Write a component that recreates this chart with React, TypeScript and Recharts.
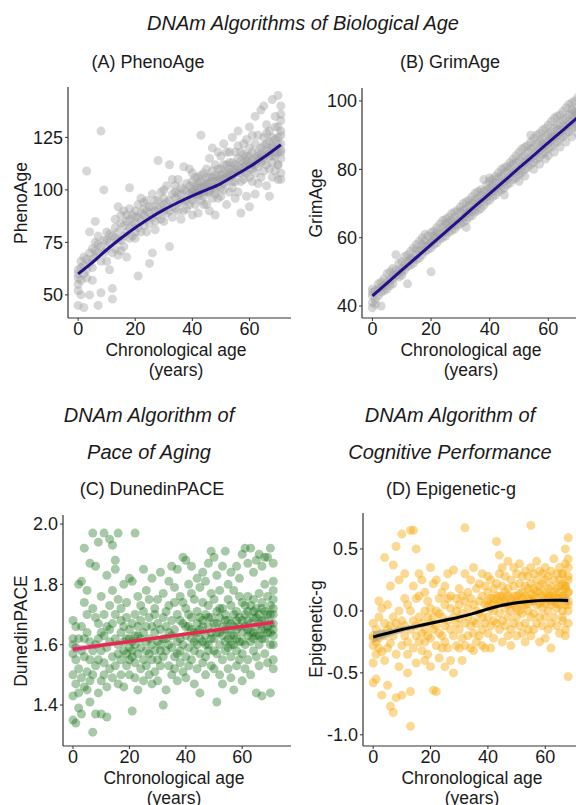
import React from "react";
import { ComposedChart, Scatter, Line, Area, XAxis, YAxis } from "recharts";

// ---- data (row index = chronological age in years) ----
const phenoByAge: number[][] = [
  [55, 52, 58, 62, 45, 60], [50, 57, 63, 66], [44, 60, 68, 64], [109, 62, 58, 67], [65, 70, 50, 80],
  [67, 72, 57, 63], [75, 85, 68, 71], [45, 70, 78, 74], [51, 128, 73, 66], [100, 76, 70],
  [72, 80, 66, 76], [75, 62, 79], [48, 53, 78, 70], [72, 82, 77, 86], [80, 92, 69, 76],
  [76, 84, 88, 71], [78, 90, 73, 83], [85, 80, 68, 88], [86, 82, 91, 101, 77], [88, 78, 83],
  [84, 90, 80, 77, 87], [59, 87, 93, 82], [85, 96, 80, 89], [88, 91, 83, 94], [86, 95, 80, 90],
  [65, 89, 84, 92], [92, 98, 70, 87], [90, 85, 95, 81], [95, 88, 114, 91], [92, 99, 86],
  [90, 96, 85, 93, 100], [102, 89, 94], [73, 95, 112, 90], [92, 98, 87, 105], [96, 102, 91, 99],
  [94, 90, 105, 98], [98, 86, 101, 94], [111, 100, 95, 90], [95, 103, 91, 99], [110, 98, 93, 102],
  [97, 104, 88, 100, 108, 95, 99], [100, 93, 106, 98, 102], [106, 98, 89, 101, 97, 103], [101, 95, 126, 107, 99, 104], [108, 99, 93, 103, 101, 97],
  [103, 93, 110, 99, 102, 106], [100, 115, 90, 106, 103, 99], [104, 96, 120, 109, 101, 106], [107, 100, 88, 112, 104, 98], [110, 102, 96, 118, 106, 104],
  [105, 97, 116, 110, 101, 107], [108, 100, 122, 112, 105, 103], [104, 112, 93, 118, 108, 106], [110, 99, 118, 106, 108, 113], [107, 101, 125, 113, 109, 104],
  [112, 104, 96, 118, 108, 110], [115, 108, 99, 128, 121, 111], [110, 89, 118, 104, 114, 108], [113, 105, 122, 117, 109, 111], [108, 116, 97, 124, 112, 114],
  [112, 92, 120, 130, 116, 106, 110], [110, 104, 126, 118, 114, 112], [115, 108, 98, 135, 122, 112], [118, 111, 103, 126, 114, 116], [120, 113, 106, 138, 117, 115],
  [116, 109, 125, 140, 121, 114], [122, 112, 102, 131, 117, 127, 119], [118, 97, 128, 110, 123, 116], [120, 113, 143, 106, 125, 116, 121], [124, 116, 109, 135, 120, 130, 118],
  [122, 145, 112, 105, 130, 118, 125, 112], [118, 126, 108, 140, 115, 133, 122, 128, 119, 136, 105],
];

const grimByAge: number[][] = [
  [43, 41, 45, 39.5, 44], [42, 44.5, 40.5], [45, 43, 46.5], [40, 45.5, 47, 44], [46, 48, 44.5],
  [47, 45, 49.5], [47.5, 50, 46], [48, 51, 46.5, 49], [55, 49, 50.5], [50, 52.5, 48.5],
  [51, 53, 49, 50], [52, 54.5, 50.5], [46.5, 53, 55, 51.5], [53.5, 56, 52, 54], [54, 57, 52.5],
  [55, 58, 53.5, 56.5], [56, 59, 54], [56.5, 60, 55, 58], [57.5, 61, 56, 59], [58, 60.5, 56.5],
  [50, 59, 61.5, 57, 58.5], [59.5, 62, 58, 60.5], [60, 63, 58.5, 61.5], [61, 64, 59.5], [61.5, 65, 60, 63],
  [62, 65.5, 60.5, 64], [63, 66, 61.5, 64.5], [63.5, 67, 62, 65], [64, 67.5, 62.5, 66], [65, 68, 63.5],
  [65.5, 69, 64, 67.5], [66, 70, 64.5, 68], [67, 70.5, 65, 63, 68.5], [67.5, 71, 66, 69.5], [68, 72, 66.5, 70],
  [69, 73, 67.5, 71], [70, 73.5, 68, 71.5], [70.5, 74, 68.5, 72.5], [71.5, 77, 69.5, 73.5], [72, 75.5, 70.5, 74],
  [73, 76.5, 71, 74.5, 77.5], [73.5, 77, 72, 75.5], [74.5, 78, 72.5, 76], [75, 79, 73.5, 77.5], [76, 80, 74, 78],
  [76.5, 80.5, 74.5, 79, 72.5], [77, 81, 75.5, 79.5], [78, 82, 76, 80.5], [79, 83, 77, 81.5], [79.5, 84, 77.5, 82],
  [80, 85, 78.5, 82.5, 76.5], [81, 86, 79, 83.5], [82, 86.5, 80, 84, 78], [82.5, 87, 80.5, 85], [83.5, 88, 81.5, 86, 90],
  [84, 89, 82, 86.5, 80], [85, 90, 83, 87.5], [85.5, 90.5, 83.5, 88, 81.5], [86.5, 91.5, 84.5, 89, 87.5], [87, 92, 85, 89.5, 83],
  [88, 93, 86, 90.5, 84], [88.5, 94, 86.5, 91, 89.5], [89.5, 95, 87.5, 92, 85], [90, 95.5, 88, 93, 91.5], [91, 96, 89, 93.5, 86.5],
  [91.5, 97, 89.5, 94.5, 92.5], [92.5, 98, 90.5, 95, 88], [93, 99, 91, 96, 94], [94, 99.5, 92, 96.5, 89.5, 97.5], [94.5, 100, 92.5, 97, 95.5],
  [95, 101, 93, 98, 90.5, 96.5], [96, 100, 93.5, 98.5, 95, 96.5, 99, 94],
];

const paceByAge: number[][] = [
  [1.68, 1.62, 1.57, 1.5, 1.43, 1.35, 1.6], [1.66, 1.55, 1.34, 1.59, 1.47], [1.8, 1.52, 1.44, 1.62, 1.39], [1.81, 1.66, 1.37, 1.58, 1.49], [1.92, 1.74, 1.56, 1.46, 1.62],
  [1.78, 1.64, 1.51, 1.45, 1.7], [1.87, 1.61, 1.48, 1.41, 1.55], [1.97, 1.72, 1.58, 1.31, 1.5], [1.86, 1.69, 1.53, 1.37, 1.6], [1.94, 1.67, 1.55, 1.44, 1.62],
  [1.76, 1.64, 1.48, 1.37, 1.58], [1.97, 1.7, 1.54, 1.5, 1.63], [1.83, 1.66, 1.59, 1.36, 1.46], [1.95, 1.73, 1.61, 1.52, 1.65], [1.93, 1.78, 1.56, 1.49, 1.67],
  [1.88, 1.7, 1.62, 1.53, 1.85], [1.97, 1.75, 1.6, 1.47, 1.57], [1.72, 1.64, 1.55, 1.5, 1.68], [1.8, 1.66, 1.58, 1.46, 1.61], [1.69, 1.62, 1.53, 1.57, 1.74],
  [1.82, 1.65, 1.59, 1.5, 1.55, 1.62], [1.81, 1.67, 1.56, 1.38, 1.61, 1.58], [1.97, 1.7, 1.6, 1.49, 1.54, 1.63], [1.76, 1.63, 1.57, 1.45, 1.66], [1.73, 1.68, 1.59, 1.52, 1.62],
  [1.85, 1.64, 1.55, 1.48, 1.71], [1.78, 1.66, 1.61, 1.53, 1.58], [1.69, 1.62, 1.5, 1.57, 1.75], [1.82, 1.6, 1.55, 1.47, 1.66], [1.72, 1.64, 1.58, 1.51, 1.7],
  [1.75, 1.61, 1.55, 1.48, 1.67], [1.84, 1.65, 1.6, 1.53, 1.58], [1.77, 1.62, 1.4, 1.56, 1.69], [1.71, 1.66, 1.58, 1.45, 1.62], [1.81, 1.6, 1.53, 1.64, 1.73],
  [1.86, 1.68, 1.59, 1.5, 1.63], [1.74, 1.65, 1.56, 1.52, 1.79], [1.85, 1.7, 1.61, 1.48, 1.57], [1.76, 1.62, 1.58, 1.54, 1.68], [1.89, 1.67, 1.6, 1.51, 1.74],
  [1.88, 1.72, 1.63, 1.56, 1.49, 1.66], [1.8, 1.66, 1.59, 1.53, 1.7], [1.86, 1.69, 1.62, 1.55, 1.77, 1.65], [1.75, 1.64, 1.58, 1.47, 1.61], [1.82, 1.71, 1.6, 1.52, 1.67, 1.64],
  [1.79, 1.65, 1.57, 1.44, 1.62, 1.69], [1.84, 1.68, 1.61, 1.54, 1.74, 1.66], [1.81, 1.7, 1.63, 1.56, 1.5, 1.6], [1.87, 1.73, 1.6, 1.58, 1.66, 1.69], [1.91, 1.69, 1.64, 1.53, 1.77, 1.62],
  [1.89, 1.75, 1.62, 1.52, 1.58, 1.67], [1.83, 1.67, 1.41, 1.57, 1.71, 1.64], [1.78, 1.64, 1.6, 1.5, 1.69, 1.72], [1.86, 1.72, 1.63, 1.55, 1.47, 1.66], [1.91, 1.7, 1.65, 1.58, 1.61, 1.68],
  [1.8, 1.68, 1.62, 1.52, 1.75, 1.65, 1.59], [1.84, 1.73, 1.6, 1.56, 1.49, 1.67, 1.63], [1.78, 1.66, 1.63, 1.45, 1.7, 1.6], [1.86, 1.71, 1.65, 1.58, 1.53, 1.68, 1.62], [1.82, 1.69, 1.61, 1.55, 1.76, 1.66],
  [1.9, 1.74, 1.64, 1.57, 1.48, 1.68, 1.61], [1.92, 1.7, 1.66, 1.6, 1.52, 1.73], [1.87, 1.76, 1.63, 1.55, 1.68, 1.71, 1.65], [1.92, 1.73, 1.67, 1.61, 1.5, 1.64], [1.84, 1.75, 1.69, 1.58, 1.64, 1.71, 1.62],
  [1.88, 1.72, 1.66, 1.56, 1.44, 1.69, 1.63], [1.9, 1.77, 1.63, 1.6, 1.53, 1.7, 1.67], [1.86, 1.74, 1.68, 1.43, 1.62, 1.65, 1.72], [1.89, 1.71, 1.65, 1.57, 1.8, 1.68, 1.62], [1.89, 1.76, 1.64, 1.54, 1.66, 1.7],
  [1.92, 1.73, 1.67, 1.44, 1.6, 1.64, 1.7], [1.87, 1.78, 1.63, 1.55, 1.7, 1.75, 1.65, 1.6, 1.52, 1.72, 1.81, 1.67],
];

const epiByAge: number[][] = [
  [-0.2, -0.28, -0.42, -0.58, -0.1, -0.22], [-0.55, -0.25, -0.15, -0.35], [-0.3, -0.05, -0.22, 0.08], [-0.68, 0.02, -0.33, -0.18], [0.43, -0.2, -0.4, -0.1],
  [-0.6, -0.15, -0.3, 0.05], [-0.77, -0.12, 0.2, -0.26], [-0.82, 0.37, -0.2, -0.05], [-0.7, 0.52, -0.35, -0.1], [-0.45, 0.25, -0.15, 0.0],
  [0.62, -0.68, -0.28, -0.08], [0.3, -0.2, -0.12, 0.1], [-0.5, 0.05, -0.25, -0.35], [-0.93, 0.65, -0.65, 0.0, -0.15], [0.65, 0.2, -0.3, -0.08],
  [0.5, -0.2, 0.1, -0.12, -0.42], [0.3, -0.05, -0.25, 0.12], [-0.1, 0.25, -0.32, -0.18], [0.0, -0.4, 0.15, -0.15, -0.25], [-0.05, 0.08, -0.2, -0.35],
  [0.35, -0.1, -0.22, 0.02, -0.45], [-0.64, 0.22, -0.05, -0.15], [0.25, -0.28, 0.0, -0.12, -0.65], [-0.02, -0.38, 0.1, -0.18], [0.15, -0.2, -0.05, -0.3],
  [-0.45, 0.05, -0.12, 0.2, -0.25], [0.1, -0.08, -0.3, 0.3], [-0.15, 0.02, -0.4, 0.12], [0.33, -0.05, -0.2, -0.5], [-0.1, 0.1, -0.28, 0.0],
  [0.18, -0.06, -0.3, -0.15, 0.05], [-0.02, 0.12, -0.22, -0.4], [0.67, 0.08, -0.1, -0.28, 0.3], [-0.05, 0.15, -0.2, 0.02], [0.1, -0.12, 0.25, -0.3],
  [-0.08, 0.05, 0.35, -0.18, -0.32], [0.0, 0.18, -0.1, -0.25], [0.22, -0.02, 0.08, -0.2], [-0.15, 0.12, 0.3, -0.05, -0.28], [0.05, -0.1, 0.2, -0.3],
  [0.15, -0.05, 0.08, -0.18, 0.28, 0.04], [0.02, 0.25, -0.12, -0.3, 0.1], [0.1, -0.08, 0.18, 0.0, -0.22, 0.06], [0.56, 0.05, -0.1, 0.22, 0.12], [0.12, -0.02, 0.3, -0.15, 0.45, 0.06],
  [0.08, 0.2, -0.08, -0.25, 0.35, 0.12], [0.15, 0.02, -0.12, 0.28, 0.08], [0.05, 0.18, -0.05, -0.2, 0.4, 0.12], [0.1, 0.25, 0.0, -0.15, -0.28, 0.06], [0.2, 0.05, -0.1, 0.35, 0.12],
  [0.12, 0.3, -0.05, 0.02, -0.2, 0.08], [0.08, 0.22, -0.12, 0.38, 0.0, 0.14], [0.15, -0.02, 0.28, -0.18, 0.1, 0.05], [0.05, 0.2, -0.1, 0.32, -0.25, 0.12], [0.18, 0.0, 0.1, -0.15, 0.28, 0.06],
  [0.69, 0.08, 0.22, -0.05, -0.2, 0.35, 0.14], [0.12, 0.3, -0.02, 0.18, -0.15, 0.08], [0.05, 0.25, 0.1, -0.1, 0.4, 0.16], [0.2, -0.05, 0.15, 0.32, -0.25, 0.06], [0.08, 0.22, -0.12, 0.02, 0.3, 0.12],
  [0.15, 0.35, -0.05, 0.1, -0.22, 0.25, 0.06], [0.1, 0.28, 0.0, -0.15, 0.18, 0.12], [0.2, 0.05, 0.32, -0.1, 0.12, -0.3, 0.08], [0.08, 0.25, -0.05, 0.15, 0.42, 0.12], [0.18, 0.02, 0.3, -0.12, 0.1, 0.06],
  [0.1, 0.25, -0.18, 0.05, 0.35, 0.15, 0.2], [0.22, 0.0, 0.12, -0.08, 0.3, 0.12, 0.3, -0.05], [0.05, 0.2, 0.38, -0.15, 0.1, 0.5, 0.18, -0.2, 0.2],
  [0.59, 0.15, 0.0, 0.25, -0.1, 0.08, -0.53, 0.42, 0.28, 0.05, 0.35, 0.15],
];

// smoothed fits
const fitAges = [0, 5, 10, 15, 20, 25, 30, 35, 40, 45, 50, 55, 60, 65, 71];
const phenoFit = [60, 65.5, 71.5, 77, 82, 86.5, 90.5, 94, 97.2, 100, 103, 107, 111, 115.5, 121.5];
const grimFit = [43, 46.7, 50.5, 54.2, 58, 61.7, 65.4, 69.2, 72.9, 76.6, 80.4, 84.1, 87.8, 91.5, 96];
const paceFit = [1.585, 1.591, 1.598, 1.604, 1.61, 1.616, 1.623, 1.629, 1.635, 1.641, 1.648, 1.654, 1.66, 1.666, 1.674];
const paceSe = [0.012, 0.009, 0.007, 0.006, 0.005, 0.004, 0.004, 0.004, 0.004, 0.004, 0.004, 0.005, 0.006, 0.007, 0.009];
const epiFitAges = [0, 5, 10, 15, 20, 25, 30, 35, 40, 45, 50, 55, 60, 65, 68];
const epiFit = [-0.21, -0.18, -0.15, -0.125, -0.1, -0.075, -0.05, -0.02, 0.015, 0.045, 0.065, 0.078, 0.085, 0.087, 0.084];
const epiSe = [0.045, 0.03, 0.022, 0.018, 0.016, 0.015, 0.015, 0.015, 0.015, 0.015, 0.014, 0.014, 0.015, 0.018, 0.028];

const xTicks = [0, 20, 40, 60];
const FONT = '"Liberation Sans", Arial, Helvetica, sans-serif';
const INK = "#1a1a1a";

const toPoints = (rows: number[][]) => rows.flatMap((vals, age) => vals.map(v => ({ x: age, y: v })));
const toFit = (ages: number[], vals: number[]) => ages.map((a, i) => ({ x: a, y: vals[i] }));
const toBand = (ages: number[], vals: number[], se: number[]) =>
  ages.map((a, i) => ({ x: a, range: [vals[i] - se[i], vals[i] + se[i]] }));

type PanelProps = {
  left: number; top: number; width: number; height: number;
  plot: { left: number; top: number; right: number; bottom: number };
  xDomain: [number, number];
  yDomain: [number, number];
  yTicks: number[];
  yFormat?: (v: number) => string;
  points: { x: number; y: number }[];
  fit: { x: number; y: number }[];
  band?: { x: number; range: number[] }[];
  dotColor: string; dotOpacity: number;
  lineColor: string; lineWidth: number;
  bandColor?: string;
};

function Panel(p: PanelProps) {
  const xh = 40;
  const margin = {
    top: p.plot.top - p.top,
    left: 0,
    right: p.left + p.width - p.plot.right,
    bottom: p.top + p.height - p.plot.bottom - xh,
  };
  const tick = { fontSize: 18, fill: INK, fontFamily: FONT };
  const axes = (visible: boolean) => [
    <XAxis
      key="x" type="number" dataKey="x" domain={p.xDomain} ticks={xTicks} allowDataOverflow
      height={xh} tick={visible ? tick : false} tickSize={3} tickMargin={1}
      axisLine={visible ? { stroke: "#333", strokeWidth: 1.2 } : false}
      tickLine={visible ? { stroke: "#333" } : false}
    />,
    <YAxis
      key="y" type="number" dataKey="y" domain={p.yDomain} ticks={p.yTicks} allowDataOverflow
      width={p.plot.left - p.left} tick={visible ? tick : false} tickSize={3} tickMargin={2}
      tickFormatter={p.yFormat}
      axisLine={visible ? { stroke: "#333", strokeWidth: 1.2 } : false}
      tickLine={visible ? { stroke: "#333" } : false}
    />,
  ];
  return (
    <div style={{ position: "absolute", left: p.left, top: p.top, width: p.width, height: p.height }}>
      {/* points and axes */}
      <ComposedChart width={p.width} height={p.height} margin={margin}>
        {axes(true)}
        <Scatter
          data={p.points} isAnimationActive={false}
          shape={(s: any) => (
            <circle cx={s.cx} cy={s.cy} r={4.5} fill={p.dotColor} fillOpacity={p.dotOpacity} />
          )}
        />
      </ComposedChart>
      {/* smooth + ribbon drawn on top */}
      <div style={{ position: "absolute", left: 0, top: 0 }}>
        <ComposedChart width={p.width} height={p.height} margin={margin}>
          {axes(false)}
          {p.band && (
            <Area
              data={p.band} dataKey="range" type="monotone" stroke="none"
              fill={p.bandColor} fillOpacity={0.55} isAnimationActive={false}
            />
          )}
          <Line
            data={p.fit} dataKey="y" type="monotone" stroke={p.lineColor}
            strokeWidth={p.lineWidth} dot={false} isAnimationActive={false}
          />
        </ComposedChart>
      </div>
    </div>
  );
}

function Text({ x, y, size, italic, children, rotate }: any) {
  return (
    <div
      style={{
        position: "absolute", left: x, top: y, whiteSpace: "nowrap", textAlign: "center",
        transform: `translate(-50%, -50%)${rotate ? " rotate(-90deg)" : ""}`,
        fontSize: size, fontStyle: italic ? "italic" : "normal", color: INK,
        fontFamily: FONT, lineHeight: "20px",
      }}
    >
      {children}
    </div>
  );
}

const XLabel = ({ x, y }: { x: number; y: number }) => (
  <Text x={x} y={y} size={17.5}>Chronological age<br />(years)</Text>
);

export default function App() {
  const fmt1 = (v: number) => v.toFixed(1);
  return (
    <div style={{ position: "absolute", left: 0, top: 0, width: 576, height: 805, overflow: "hidden", background: "#fff" }}>
      <Text x={303} y={23} size={20} italic>DNAm Algorithms of Biological Age</Text>
      <Text x={148} y={62} size={18}>(A) PhenoAge</Text>
      <Text x={450} y={62} size={18}>(B) GrimAge</Text>

      <Text x={149} y={415} size={20} italic>DNAm Algorithm of</Text>
      <Text x={149} y={452} size={20} italic>Pace of Aging</Text>
      <Text x={152} y={489} size={18}>(C) DunedinPACE</Text>
      <Text x={450} y={415} size={20} italic>DNAm Algorithm of</Text>
      <Text x={450} y={452} size={20} italic>Cognitive Performance</Text>
      <Text x={451} y={489} size={18}>(D) Epigenetic-g</Text>

      <Panel
        left={0} top={70} width={300} height={300}
        plot={{ left: 68, top: 87, right: 291, bottom: 318 }}
        xDomain={[-3.55, 74.55]} yDomain={[39, 149]} yTicks={[50, 75, 100, 125]}
        points={toPoints(phenoByAge)} fit={toFit(fitAges, phenoFit)}
        dotColor="#a0a0a0" dotOpacity={0.42} lineColor="#23108a" lineWidth={3}
      />
      <Panel
        left={290} top={70} width={305} height={300}
        plot={{ left: 362, top: 88, right: 591, bottom: 318 }}
        xDomain={[-3.55, 74.55]} yDomain={[36.5, 103.8]} yTicks={[40, 60, 80, 100]}
        points={toPoints(grimByAge)} fit={toFit(fitAges, grimFit)}
        dotColor="#a0a0a0" dotOpacity={0.42} lineColor="#23108a" lineWidth={3}
      />
      <Panel
        left={0} top={500} width={300} height={300}
        plot={{ left: 63, top: 515, right: 291, bottom: 746 }}
        xDomain={[-3.55, 77.3]} yDomain={[1.264, 2.03]} yTicks={[1.4, 1.6, 1.8, 2.0]} yFormat={fmt1}
        points={toPoints(paceByAge)} fit={toFit(fitAges, paceFit)} band={toBand(fitAges, paceFit, paceSe)}
        dotColor="#0a6a0a" dotOpacity={0.36} lineColor="#e8294e" lineWidth={3.5} bandColor="#cc66cc"
      />
      <Panel
        left={290} top={500} width={305} height={300}
        plot={{ left: 363, top: 513, right: 587, bottom: 746 }}
        xDomain={[-3.55, 74.55]} yDomain={[-1.09, 0.79]} yTicks={[-1.0, -0.5, 0.0, 0.5]} yFormat={fmt1}
        points={toPoints(epiByAge)} fit={toFit(epiFitAges, epiFit)} band={toBand(epiFitAges, epiFit, epiSe)}
        dotColor="#f7aa10" dotOpacity={0.45} lineColor="#000000" lineWidth={3} bandColor="#999999"
      />

      <XLabel x={176} y={360} />
      <XLabel x={471} y={360} />
      <XLabel x={174} y={788} />
      <XLabel x={472} y={788} />
      <Text x={21} y={203} size={17.5} rotate>PhenoAge</Text>
      <Text x={316} y={203} size={17.5} rotate>GrimAge</Text>
      <Text x={21} y={631} size={17.5} rotate>DunedinPACE</Text>
      <Text x={316} y={629} size={17.5} rotate>Epigenetic-g</Text>
    </div>
  );
}
